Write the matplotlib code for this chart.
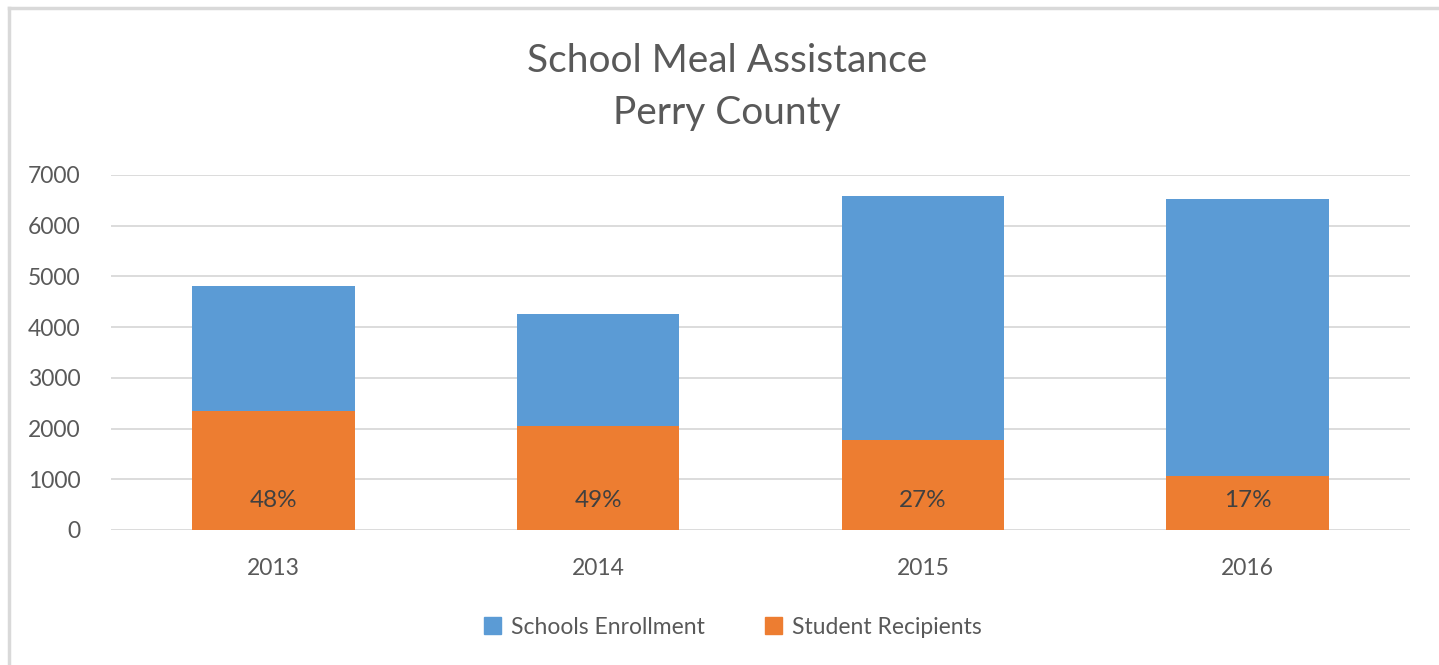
import matplotlib
matplotlib.use("Agg")
import matplotlib.pyplot as plt
from matplotlib.lines import Line2D
from matplotlib.patches import Patch

years = ["2013", "2014", "2015", "2016"]
enrollment = [4810, 4260, 6590, 6530]
recipients = [2340, 2050, 1775, 1065]
pct_labels = ["48%", "49%", "27%", "17%"]
yticks = [0, 1000, 2000, 3000, 4000, 5000, 6000, 7000]

blue = "#5B9BD5"
orange = "#ED7D31"
txt = "#595959"

plt.rcParams['font.family'] = ['Lato', 'DejaVu Sans']

W, H = 1439, 665
fig = plt.figure(figsize=(W/100, H/100), dpi=100)
ax = fig.add_axes([111/W, 1-530/H, (1410-111)/W, (530-175)/H])

x = list(range(len(years)))
ax.bar(x, enrollment, width=0.5, color=blue, zorder=2)
ax.bar(x, recipients, width=0.5, color=orange, zorder=3)
for xi, lab in zip(x, pct_labels):
    ax.text(xi, 590, lab, ha='center', va='center', fontsize=17.5, color="#404040", zorder=4)

ax.set_xlim(-0.5, 3.5)
ax.set_ylim(0, 7000)
ax.set_yticks(yticks)
ax.set_yticklabels([str(v) for v in yticks])
ax.set_xticks(x)
ax.set_xticklabels(years)
ax.tick_params(axis='both', length=0, labelsize=16.5, labelcolor=txt)
ax.tick_params(axis='y', pad=22)
ax.tick_params(axis='x', pad=20)
ax.grid(axis='y', color="#D9D9D9", linewidth=1.3, zorder=0)
ax.set_axisbelow(True)
for s in ax.spines.values():
    s.set_visible(False)

fig.text(727/W, 1-61/H, "School Meal Assistance", ha='center', va='center', fontsize=28, color=txt)
fig.text(727/W, 1-113/H, "Perry County", ha='center', va='center', fontsize=28, color=txt)

handles = [Patch(color=blue, label="Schools Enrollment"), Patch(color=orange, label="Student Recipients")]
fig.legend(handles=handles, loc='center', bbox_to_anchor=(733/W, 1-627/H), ncol=2, frameon=False,
           fontsize=16.5, labelcolor=txt, handlelength=0.75, handleheight=0.75, columnspacing=2.6, handletextpad=0.45)

fig.add_artist(Line2D([9/W, 9/W], [0, 1-8/H], color="#D9D9D9", linewidth=2.5, transform=fig.transFigure))
fig.add_artist(Line2D([9/W, 1], [1-8/H, 1-8/H], color="#D9D9D9", linewidth=2.5, transform=fig.transFigure))

fig.savefig("out.png", dpi=100)
